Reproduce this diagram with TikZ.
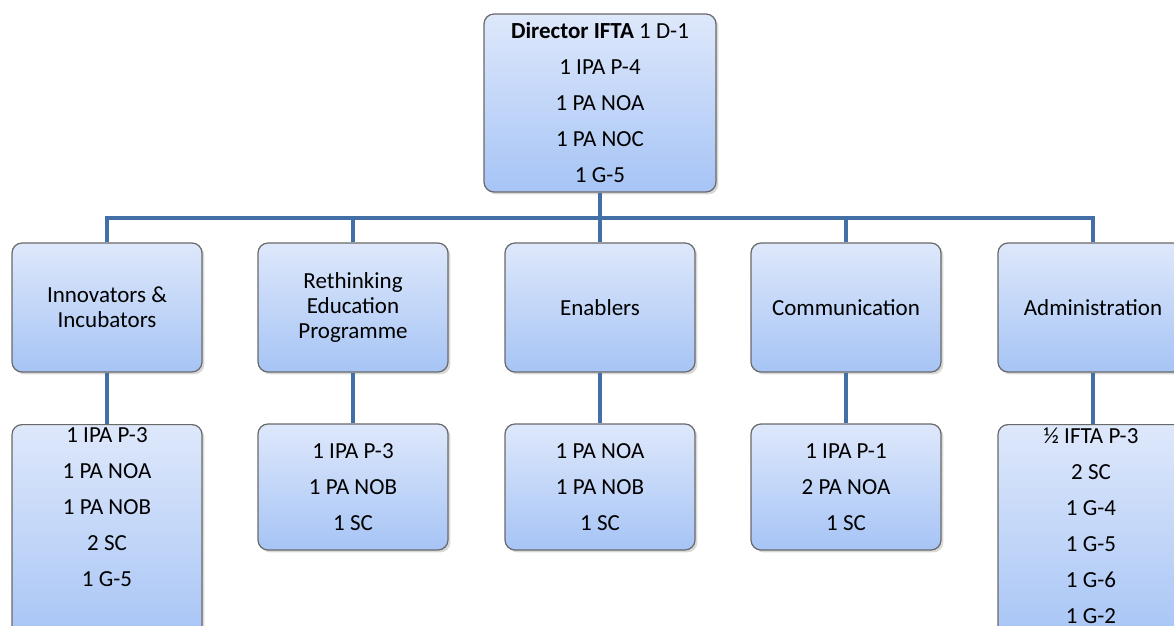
\documentclass[tikz,border=0pt]{standalone}
\usepackage{fontspec}
\setmainfont{Carlito}
\usetikzlibrary{shadows}
\definecolor{boxtop}{RGB}{222,232,251}
\definecolor{boxbottom}{RGB}{166,196,245}
\definecolor{boxline}{RGB}{105,105,105}
\definecolor{linkblue}{RGB}{66,111,166}
\begin{document}
\begin{tikzpicture}[x=0.5pt, y=-0.5pt,
	unit/.style={draw=boxline, line width=0.6pt, rounded corners=5pt,
		top color=boxtop, bottom color=boxbottom, minimum width=95pt,
		align=center, inner sep=2pt,
		drop shadow={shadow xshift=1.2pt, shadow yshift=-1.2pt, opacity=0.3}},
	head/.style={unit, font=\fontsize{11.5}{12.7}\selectfont, minimum height=64.5pt},
	staff/.style={unit, font=\fontsize{11.5}{18}\selectfont, minimum height=63pt},
	stafftext/.style={align=center, inner sep=0pt, font=\fontsize{11.5}{18}\selectfont},
	link/.style={draw=linkblue, line width=2pt}]
	\useasboundingbox (0,0) rectangle (1174,626);
	\clip (0,0) rectangle (1174,626);
	% Leitung
	\node[unit, font=\fontsize{11.5}{18}\selectfont, minimum width=116pt,
		minimum height=89pt] (dir) at (600,103)
		{\textbf{Director IFTA} 1 D-1\\1 IPA P-4\\1 PA NOA\\1 PA NOC\\1 G-5};
	% Bereiche
	\node[head] (inno) at (107,307.5) {Innovators \&\\Incubators};
	\node[head] (rethink) at (353,307.5) {Rethinking\\Education\\Programme};
	\node[head] (enab) at (600,307.5) {Enablers};
	\node[head] (comm) at (846,307.5) {Communication};
	\node[head] (admin) at (1093,307.5) {Administration};
	% Stellen
	\node[unit, anchor=north, minimum height=110pt] (innoStaff) at (107,424) {};
	\node[stafftext] (innoText) at (107,507)
		{1 IPA P-3\\1 PA NOA\\1 PA NOB\\2 SC\\1 G-5};
	\node[staff] (rethinkStaff) at (353,487) {1 IPA P-3\\1 PA NOB\\1 SC};
	\node[staff] (enabStaff) at (600,487) {1 PA NOA\\1 PA NOB\\1 SC};
	\node[staff] (commStaff) at (846,487) {1 IPA P-1\\2 PA NOA\\1 SC};
	\node[unit, anchor=north, minimum height=110pt] (adminStaff) at (1093,424) {};
	\node[stafftext] (adminText) at (1091,526)
		{½ IFTA P-3\\2 SC\\1 G-4\\1 G-5\\1 G-6\\1 G-2};
	% Verbindungen
	\coordinate (bus) at (600,218);
	\draw[link] (dir.south) -- (bus);
	\foreach \n in {inno,rethink,enab,comm,admin} {
		\draw[link] (\n.north) |- (bus);
		\draw[link] (\n.south) -- (\n Staff.north);
	}
\end{tikzpicture}
\end{document}
